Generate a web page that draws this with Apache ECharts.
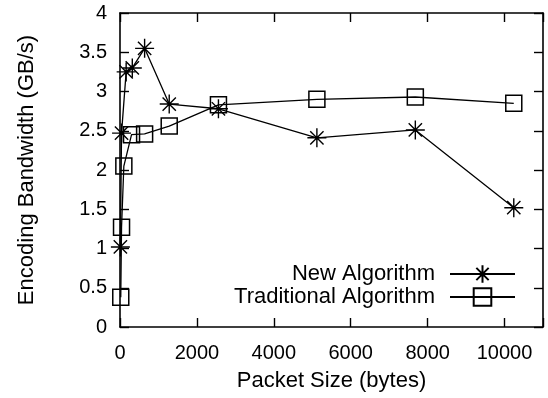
<!DOCTYPE html>
<html><head><meta charset="utf-8">
<script src="https://cdn.jsdelivr.net/npm/echarts@6/dist/echarts.min.js"></script>
<style>html,body{margin:0;padding:0;background:#fff}#c{width:548px;height:398px}</style>
</head><body><div id="c"></div>
<script>
const newX = [10, 40, 160, 320, 640, 1280, 2560, 5120, 7680, 10240];
const newY = [1.02, 2.47, 3.25, 3.30, 3.55, 2.84, 2.78, 2.41, 2.51, 1.52];
const tradX = [20, 40, 100, 300, 640, 1280, 2560, 5120, 7680, 10240];
const tradY = [0.38, 1.27, 2.05, 2.45, 2.46, 2.56, 2.83, 2.90, 2.93, 2.85];
const seriesNames = ['New Algorithm', 'Traditional Algorithm'];
const xTitle = 'Packet Size (bytes)';
const yTitle = 'Encoding Bandwidth (GB/s)';

const FONT = 'Liberation Sans, Arial, sans-serif';
const FS = 20;
const FN = 22;
const star = 'path://M0,5L10,5M5,0L5,10M1.5,1.5L8.5,8.5M8.5,1.5L1.5,8.5';
function pairs(xs, ys){ return xs.map((x,i)=>[x, ys[i]]); }
function common(){
  return {
    axisLine:{show:true, onZero:false, lineStyle:{color:'#000', width:1.6}},
    axisTick:{show:true, inside:true, length:9, lineStyle:{color:'#000', width:1.4}},
    splitLine:{show:false}
  };
}
const chart = echarts.init(document.getElementById('c'));
chart.setOption({
  animation:false,
  backgroundColor:'#fff',
  grid:{left:120, right:5, top:13, bottom:71},
  xAxis:[
    Object.assign({type:'value', min:0, max:11000, interval:2000, position:'bottom',
      name:xTitle, nameLocation:'middle', nameGap:43,
      nameTextStyle:{fontFamily:FONT, fontSize:FN, color:'#000'},
      axisLabel:{fontFamily:FONT, fontSize:FS, color:'#000', margin:16,
        formatter:v=> (v>10000? '' : String(v))}}, common()),
    Object.assign({type:'value', min:0, max:11000, interval:2000, position:'top',
      axisLabel:{show:false}}, common())
  ],
  yAxis:[
    Object.assign({type:'value', min:0, max:4, interval:0.5, position:'left',
      name:yTitle, nameLocation:'middle', nameGap:82,
      nameTextStyle:{fontFamily:FONT, fontSize:FN, color:'#000'},
      axisLabel:{fontFamily:FONT, fontSize:FS, color:'#000', margin:13}}, common()),
    Object.assign({type:'value', min:0, max:4, interval:0.5, position:'right',
      axisLabel:{show:false}}, common())
  ],
  legend:{
    right:27, top:258, orient:'vertical', align:'right',
    itemWidth:65, itemHeight:22, itemGap:1,
    textStyle:{fontFamily:FONT, fontSize:FN, color:'#000', lineHeight:20, padding:[0,10,0,0]},
    data:seriesNames
  },
  series:[
    {name:seriesNames[0], type:'line', data:pairs(newX,newY),
     symbol:star, symbolSize:19, showAllSymbol:true,
     lineStyle:{color:'#000', width:1.3},
     itemStyle:{color:'#000', borderColor:'#000', borderWidth:1.4}},
    {name:seriesNames[1], type:'line', data:pairs(tradX,tradY),
     symbol:'rect', symbolSize:16, showAllSymbol:true,
     lineStyle:{color:'#000', width:1.3},
     itemStyle:{color:'rgba(0,0,0,0)', borderColor:'#000', borderWidth:1.5}}
  ]
});
</script></body></html>
